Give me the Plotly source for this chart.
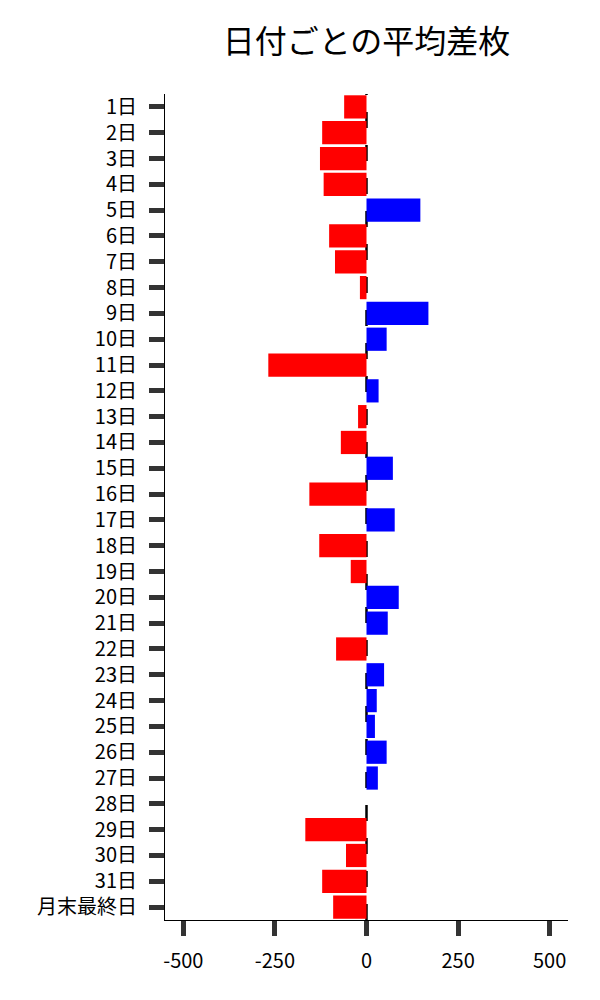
import plotly.graph_objects as go

days = [f"{d}日" for d in range(1, 32)] + ["月末最終日"]
avg_diff = [-61, -121, -127, -117, 147, -102, -86, -18, 169, 55,
            -268, 33, -23, -70, 72, -156, 77, -129, -43, 88,
            58, -83, 48, 28, 23, 55, 31, 0, -167, -56,
            -121, -91]
x_ticks = [-500, -250, 0, 250, 500]

colors = ["blue" if v > 0 else "red" for v in avg_diff]

fig = go.Figure()

fig.add_trace(go.Bar(
    x=avg_diff,
    y=days,
    orientation="h",
    marker=dict(color=colors, line=dict(width=0)),
    width=0.9,
    showlegend=False,
))

# zero line, dashed, behind the bars
fig.add_shape(type="line", xref="x", yref="paper",
              x0=0, x1=0, y0=0, y1=1,
              line=dict(color="black", width=2.5, dash="16px,17px"),
              layer="below")

font = "Noto Sans CJK JP"

fig.update_layout(
    width=600, height=1000,
    margin=dict(l=157, r=40, t=86, b=88),
    plot_bgcolor="white",
    paper_bgcolor="white",
    font=dict(family=font, size=20, color="black"),
    title=dict(text="日付ごとの平均差枚", x=0.5, xref="paper", xanchor="center",
               y=0.966, yanchor="middle",
               font=dict(family=font, size=32, color="black")),
    bargap=0.1,
)

fig.update_xaxes(
    range=[-550, 550],
    tickvals=x_ticks,
    ticktext=[str(v) for v in x_ticks],
    showgrid=False, zeroline=False,
    showline=True, linecolor="black", linewidth=1,
    ticks="outside", ticklen=15, tickwidth=5, tickcolor="#333",
    ticklabelstandoff=8,
    tickfont=dict(size=20),
)
fig.update_yaxes(
    categoryorder="array", categoryarray=days,
    autorange="reversed",
    showgrid=False, zeroline=False,
    showline=True, linecolor="black", linewidth=1,
    ticks="outside", ticklen=15, tickwidth=5, tickcolor="#333",
    ticklabelstandoff=8,
    tickfont=dict(size=20),
)

fig.write_html("out.html")
